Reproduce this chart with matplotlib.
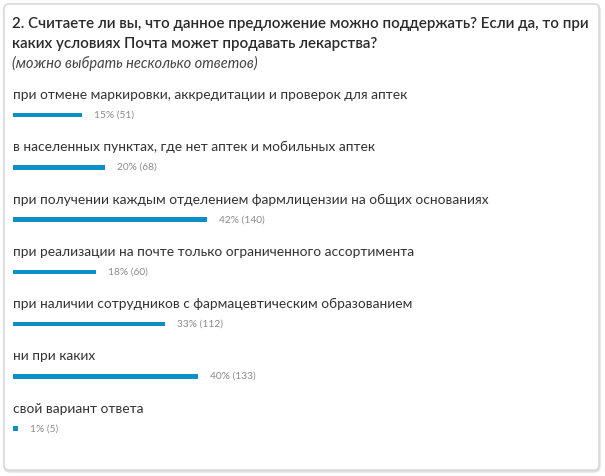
import matplotlib.pyplot as plt
from matplotlib.patches import FancyBboxPatch

# answers, share of respondents (%) and counts
labels = [
    "при отмене маркировки, аккредитации и проверок для аптек",
    "в населенных пунктах, где нет аптек и мобильных аптек",
    "при получении каждым отделением фармлицензии на общих основаниях",
    "при реализации на почте только ограниченного ассортимента",
    "при наличии сотрудников с фармацевтическим образованием",
    "ни при каких",
    "свой вариант ответа",
]
percents = [15, 20, 42, 18, 33, 40, 1]
counts = [51, 68, 140, 60, 112, 133, 5]

title_lines = ["2. Считаете ли вы, что данное предложение можно поддержать? Если да, то при",
               "каких условиях Почта может продавать лекарства?"]
subtitle = "(можно выбрать несколько ответов)"

W, H = 605, 476
BLUE = "#0b8fc6"
plt.rcParams['font.family'] = ['Lato', 'DejaVu Sans']

fig = plt.figure(figsize=(W / 100, H / 100), dpi=100)
fig.patch.set_facecolor("white")

# card frame
bg = fig.add_axes([0, 0, 1, 1])
bg.set_xlim(0, W)
bg.set_ylim(H, 0)
bg.axis("off")
bg.add_patch(FancyBboxPatch((5, 5), 594, 466, boxstyle="round,pad=0,rounding_size=5",
                            fc="none", ec="#e2e2e2", lw=2.5))
bg.add_patch(FancyBboxPatch((4, 4), 595, 466, boxstyle="round,pad=0,rounding_size=5",
                            fc="white", ec="#d6d6d6", lw=1))

for i, line in enumerate(title_lines):
    bg.text(12, 24 + 20 * i, line, fontsize=10.9, fontweight="semibold",
            color="#2b2b2b", va="center", ha="left")
bg.text(12, 63, subtitle, fontsize=10.5, style="italic", color="#444444",
        va="center", ha="left")

# bars: x in percent, 1% ~ 4.62 px
x0, x1 = 13, 13 + 462
top, bottom = 115 - 26.1, 428.7 + 26.1
ax = fig.add_axes([x0 / W, 1 - bottom / H, (x1 - x0) / W, (bottom - top) / H])
ax.set_xlim(0, 100)
ax.set_ylim(len(labels) - 0.5, -0.5)
ax.axis("off")
ax.patch.set_alpha(0)

ys = list(range(len(labels)))
ax.barh(ys, percents, height=0.085, left=0, color=BLUE)
for y, lab, p, c in zip(ys, labels, percents, counts):
    ax.text(0, y - 0.385, lab, fontsize=9.9, color="#333333", va="center", ha="left",
            clip_on=False)
    ax.text(p + 2.6, y, f"{p}% ({c})", fontsize=7.3, color="#8a8a8a", va="center",
            ha="left")

fig.savefig("out.png", dpi=100, facecolor="white")
